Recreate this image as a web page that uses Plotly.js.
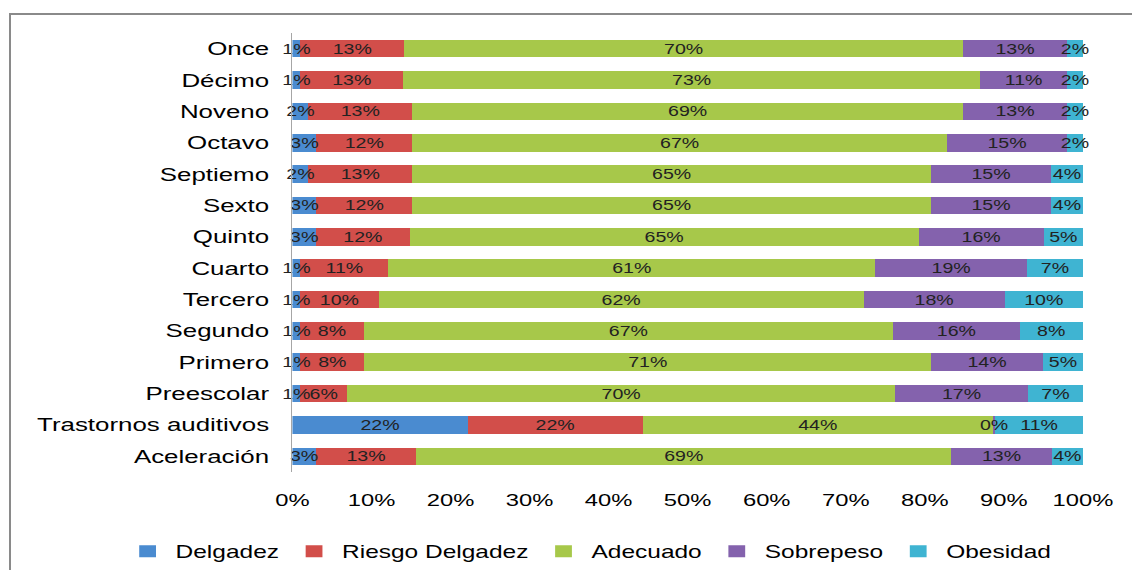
<!DOCTYPE html>
<html>
<head>
<meta charset="utf-8">
<script src="https://cdn.plot.ly/plotly-3.0.1.min.js"></script>
<style>
  html, body { margin: 0; padding: 0; background: #ffffff; overflow: hidden; }
  #frame { position: absolute; left: 9px; top: 13px; width: 1200px; height: 600px;
           border-left: 2px solid #8a8a8a; border-top: 2px solid #8a8a8a; }
  #wrap { position: absolute; left: 0; top: 0; width: 809px; height: 570px;
          transform-origin: 0 0; transform: scaleX(1.39926); }
</style>
</head>
<body>
<div id="frame"></div>
<div id="wrap"><div id="chart" style="width:809px;height:570px;"></div></div>
<script>
// Categories (top to bottom)
const categories = ["Once", "Décimo", "Noveno", "Octavo", "Septiemo", "Sexto", "Quinto",
  "Cuarto", "Tercero", "Segundo", "Primero", "Preescolar", "Trastornos auditivos", "Aceleración"];

// Series values (%) (Sobrepeso in "Trastornos auditivos" ~0, shown as 0%)
const delgadez        = [1, 1, 2, 3, 2, 3, 3, 1, 1, 1, 1, 1, 22, 3];
const riesgoDelgadez  = [13, 13, 13, 12, 13, 12, 12, 11, 10, 8, 8, 6, 22, 13];
const adecuado        = [70, 73, 69, 67, 65, 65, 65, 61, 62, 67, 71, 70, 44, 69];
const sobrepeso       = [13, 11, 13, 15, 15, 15, 16, 19, 18, 16, 14, 17, 0.3, 13];
const obesidad        = [2, 2, 2, 2, 4, 4, 5, 7, 10, 8, 5, 7, 11, 4];

const seriesNames = ["Delgadez", "Riesgo Delgadez", "Adecuado", "Sobrepeso", "Obesidad"];
const xTickVals = [0, 10, 20, 30, 40, 50, 60, 70, 80, 90, 100];

const seriesData = [delgadez, riesgoDelgadez, adecuado, sobrepeso, obesidad];
const colors = ["#4a8bd0", "#d24e4a", "#a7c84a", "#8462ad", "#3fb4d2"];
const FONT = "Liberation Sans, Arial, sans-serif";
const XRANGE = [0, 100.02];

// Bars (no text) on the main axes
const barTraces = seriesData.map((vals, i) => ({
  type: "bar",
  orientation: "h",
  name: seriesNames[i],
  y: categories,
  x: vals,
  textposition: "none",
  marker: { color: colors[i], line: { width: 0 } },
  hoverinfo: "skip",
  xaxis: "x",
  yaxis: "y"
}));

// Same stacks on an overlaid axis pair, transparent, carrying the labels on top of all bars
const textTraces = seriesData.map((vals, i) => ({
  type: "bar",
  orientation: "h",
  name: seriesNames[i],
  showlegend: false,
  y: categories,
  x: vals,
  text: vals.map(v => Math.round(v) + "%"),
  texttemplate: "%{text}",
  textposition: "inside",
  insidetextanchor: "middle",
  constraintext: "none",
  textangle: 0,
  insidetextfont: { family: FONT, size: 14, color: "#222222" },
  cliponaxis: false,
  marker: { color: "rgba(0,0,0,0)", line: { width: 0 } },
  hoverinfo: "skip",
  xaxis: "x2",
  yaxis: "y2"
}));

const yCommon = {
  type: "category",
  categoryorder: "array",
  categoryarray: categories,
  autorange: "reversed",
  showgrid: false,
  zeroline: false,
  fixedrange: true
};

const layout = {
  width: 809,
  height: 570,
  barmode: "stack",
  barnorm: "percent",
  bargap: 0.44,
  paper_bgcolor: "rgba(0,0,0,0)",
  plot_bgcolor: "rgba(0,0,0,0)",
  margin: { l: 208.7, r: 34.5, t: 33.3, b: 98.3, pad: 0, autoexpand: false },
  font: { family: FONT, color: "#000000" },
  xaxis: {
    range: XRANGE,
    tickvals: xTickVals,
    ticktext: xTickVals.map(v => v + "%"),
    showgrid: false,
    zeroline: false,
    showline: false,
    ticks: "",
    ticklabelstandoff: 16,
    tickfont: { family: FONT, size: 17, color: "#000000" },
    fixedrange: true
  },
  xaxis2: {
    range: XRANGE,
    overlaying: "x",
    visible: false,
    showgrid: false,
    zeroline: false,
    fixedrange: true
  },
  yaxis: Object.assign({}, yCommon, {
    showline: true,
    linecolor: "#a6a6a6",
    linewidth: 1,
    ticks: "",
    ticklabelstandoff: 12,
    tickfont: { family: FONT, size: 18.5, color: "#000000" }
  }),
  yaxis2: Object.assign({}, yCommon, {
    overlaying: "y",
    visible: false
  }),
  showlegend: true,
  legend: {
    orientation: "h",
    xref: "paper",
    yref: "paper",
    x: -0.2186,
    xanchor: "left",
    y: -0.181,
    yanchor: "middle",
    font: { family: FONT, size: 17.5, color: "#000000" },
    traceorder: "normal",
    itemclick: false,
    itemdoubleclick: false
  }
};

Plotly.newPlot("chart", barTraces.concat(textTraces), layout, { displayModeBar: false, staticPlot: true });
</script>
</body>
</html>
